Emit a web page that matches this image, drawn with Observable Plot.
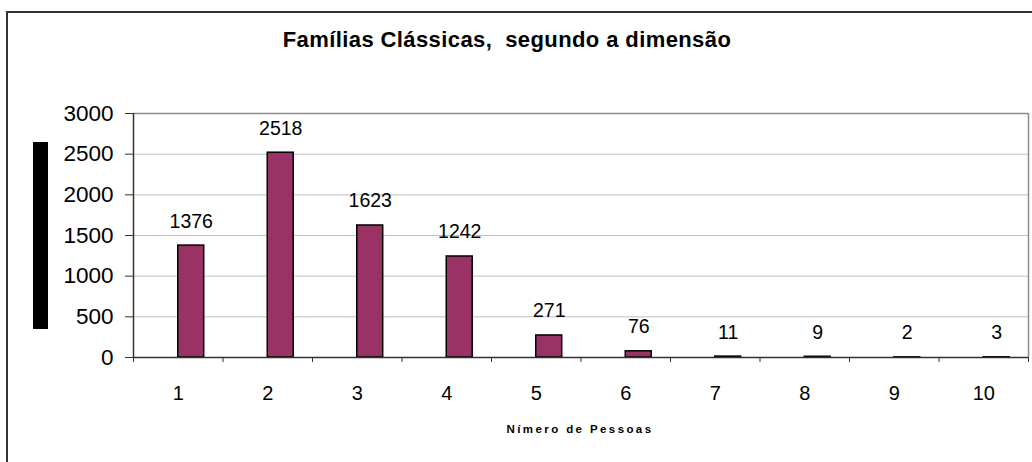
<!DOCTYPE html>
<html>
<head>
<meta charset="utf-8">
<script src="https://cdn.jsdelivr.net/npm/d3@7"></script>
<script src="https://cdn.jsdelivr.net/npm/@observablehq/plot@0.6"></script>
<style>
  html, body { margin: 0; padding: 0; background: #fff; }
  #wrap { position: relative; width: 1032px; height: 462px; overflow: hidden; font-family: "Liberation Sans", Arial, sans-serif; }
  #border { position: absolute; left: 6px; top: 11px; width: 1100px; height: 500px; border-left: 2px solid #333; border-top: 2px solid #333; box-sizing: border-box; }
  #title { position: absolute; left: 207px; width: 600px; top: 27px; text-align: center; font-weight: bold; font-size: 22px; letter-spacing: 0.4px; color: #000; white-space: pre; }
  #ytitle { position: absolute; left: 33px; top: 142px; width: 15px; height: 187px; background: #000; }
  #xtitle { position: absolute; left: 430px; width: 300px; top: 423px; text-align: center; font-weight: bold; font-size: 11.5px; letter-spacing: 2.4px; color: #000; }
  #chart { position: absolute; left: 0; top: 0; }
</style>
</head>
<body>
<div id="wrap">
  <div id="chart"></div>
  <div id="border"></div>
  <div id="title">Famílias Clássicas,  segundo a dimensão</div>
  <div id="ytitle"></div>
  <div id="xtitle">Nímero de Pessoas</div>
</div>
<script>
const categories = [1, 2, 3, 4, 5, 6, 7, 8, 9, 10];
const values = [1376, 2518, 1623, 1242, 271, 76, 11, 9, 2, 3];
const yTicks = [0, 500, 1000, 1500, 2000, 2500, 3000];

const data = categories.map((c, i) => ({n: c, v: values[i]}));
const bounds = d3.range(0.5, categories.length + 1, 1);
const barW = 0.29;

const chart = Plot.plot({
  width: 1032,
  height: 462,
  marginLeft: 133,
  marginRight: 4,
  marginTop: 113,
  marginBottom: 105,
  style: {fontFamily: "'Liberation Sans', Arial, sans-serif", background: "transparent"},
  x: {type: "linear", domain: [0.5, categories.length + 0.5]},
  y: {domain: [0, 3000]},
  marks: [
    Plot.ruleY(yTicks.filter(d => d > 0 && d < 3000), {stroke: "#c0c0c0", strokeWidth: 1}),
    Plot.ruleY([3000], {stroke: "#8c8c8c", strokeWidth: 1.5}),
    Plot.ruleX([categories.length + 0.5], {stroke: "#8c8c8c", strokeWidth: 1.5}),
    Plot.rectY(data, {x1: "n", x2: d => d.n + barW, y1: 0, y2: "v", fill: "#993366", stroke: "#000", strokeWidth: 1.5}),
    Plot.text(data, {x: d => d.n + barW / 2, y: "v", text: d => String(d.v), dy: -18, lineAnchor: "bottom", fontSize: 19.5, fill: "#000"}),
    Plot.axisY({ticks: yTicks, tickFormat: d => String(d), tickSize: 8, tickPadding: 12, fontSize: 22.5, stroke: "#333", color: "#000", label: null}),
    Plot.axisX({ticks: bounds, tickFormat: () => "", tickSize: 5, stroke: "#333", label: null}),
    Plot.axisX({ticks: categories, tickFormat: d => String(d), tickSize: 0, tickPadding: 28, fontSize: 20, color: "#000", label: null}),
    Plot.ruleX([0.5], {stroke: "#333", strokeWidth: 1.5}),
    Plot.ruleY([0], {stroke: "#333", strokeWidth: 1.5})
  ]
});
document.getElementById("chart").appendChild(chart);
</script>
</body>
</html>
